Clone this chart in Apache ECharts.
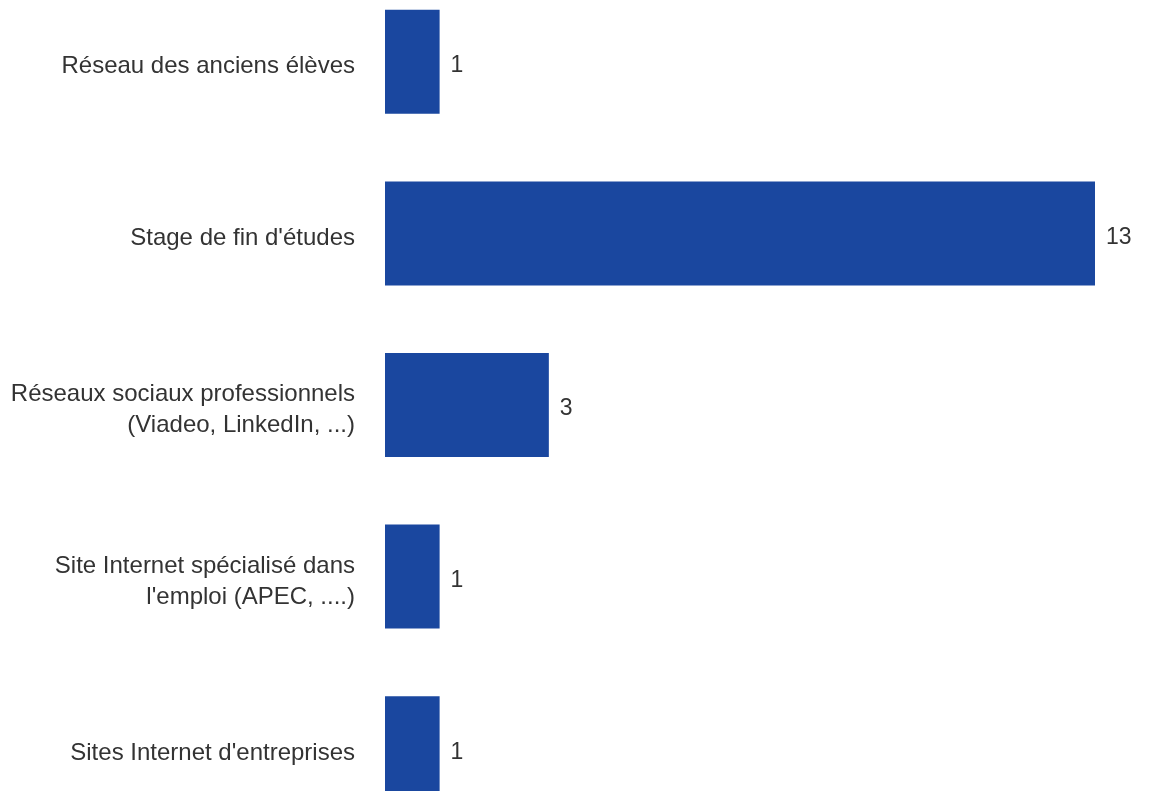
<!DOCTYPE html>
<html>
<head>
<meta charset="utf-8">
<script src="https://cdn.jsdelivr.net/npm/echarts@6/dist/echarts.min.js"></script>
<style>
html,body{margin:0;padding:0;background:#fff;overflow:hidden;width:1149px;height:791px;}
#c{width:1149px;height:858px;margin-top:-24px;}
</style>
</head>
<body>
<div id="c"></div>
<script>
const categories = [
  "Réseau des anciens élèves",
  "Stage de fin d'études",
  "Réseaux sociaux professionnels\n(Viadeo, LinkedIn, ...)",
  "Site Internet spécialisé dans\nl'emploi (APEC, ....)",
  "Sites Internet d'entreprises"
];
const values = [1, 13, 3, 1, 1];

const font = 'Liberation Sans, Arial, sans-serif';
const chart = echarts.init(document.getElementById('c'));
chart.setOption({
  animation: false,
  grid: { left: 385, right: 54, top: 0, bottom: 0, containLabel: false },
  xAxis: { type: 'value', min: 0, max: 13, show: false },
  yAxis: {
    type: 'category',
    data: categories,
    inverse: true,
    axisLine: { show: false },
    axisTick: { show: false },
    axisLabel: {
      margin: 30,
      align: 'right',
      formatter: function (v) {
        const lines = v.split('\n');
        return lines.map((s, i) => (i === 0 ? '{a|' : '{b|') + s + '}').join('\n');
      },
      rich: {
        a: { color: '#333333', fontFamily: font, fontSize: 24, lineHeight: 31, padding: [10, 0, 0, 0], align: 'right' },
        b: { color: '#333333', fontFamily: font, fontSize: 24, lineHeight: 31, padding: [10, 0, 0, 0], align: 'right' }
      }
    }
  },
  series: [{
    type: 'bar',
    data: values,
    barWidth: 104,
    itemStyle: { color: '#1a479f' },
    label: {
      show: true,
      position: 'right',
      distance: 11,
      formatter: '{a|{c}}',
      rich: {
        a: { color: '#333333', fontFamily: font, fontSize: 23, lineHeight: 28, padding: [8, 0, 0, 0] }
      }
    }
  }]
});
</script>
</body>
</html>
